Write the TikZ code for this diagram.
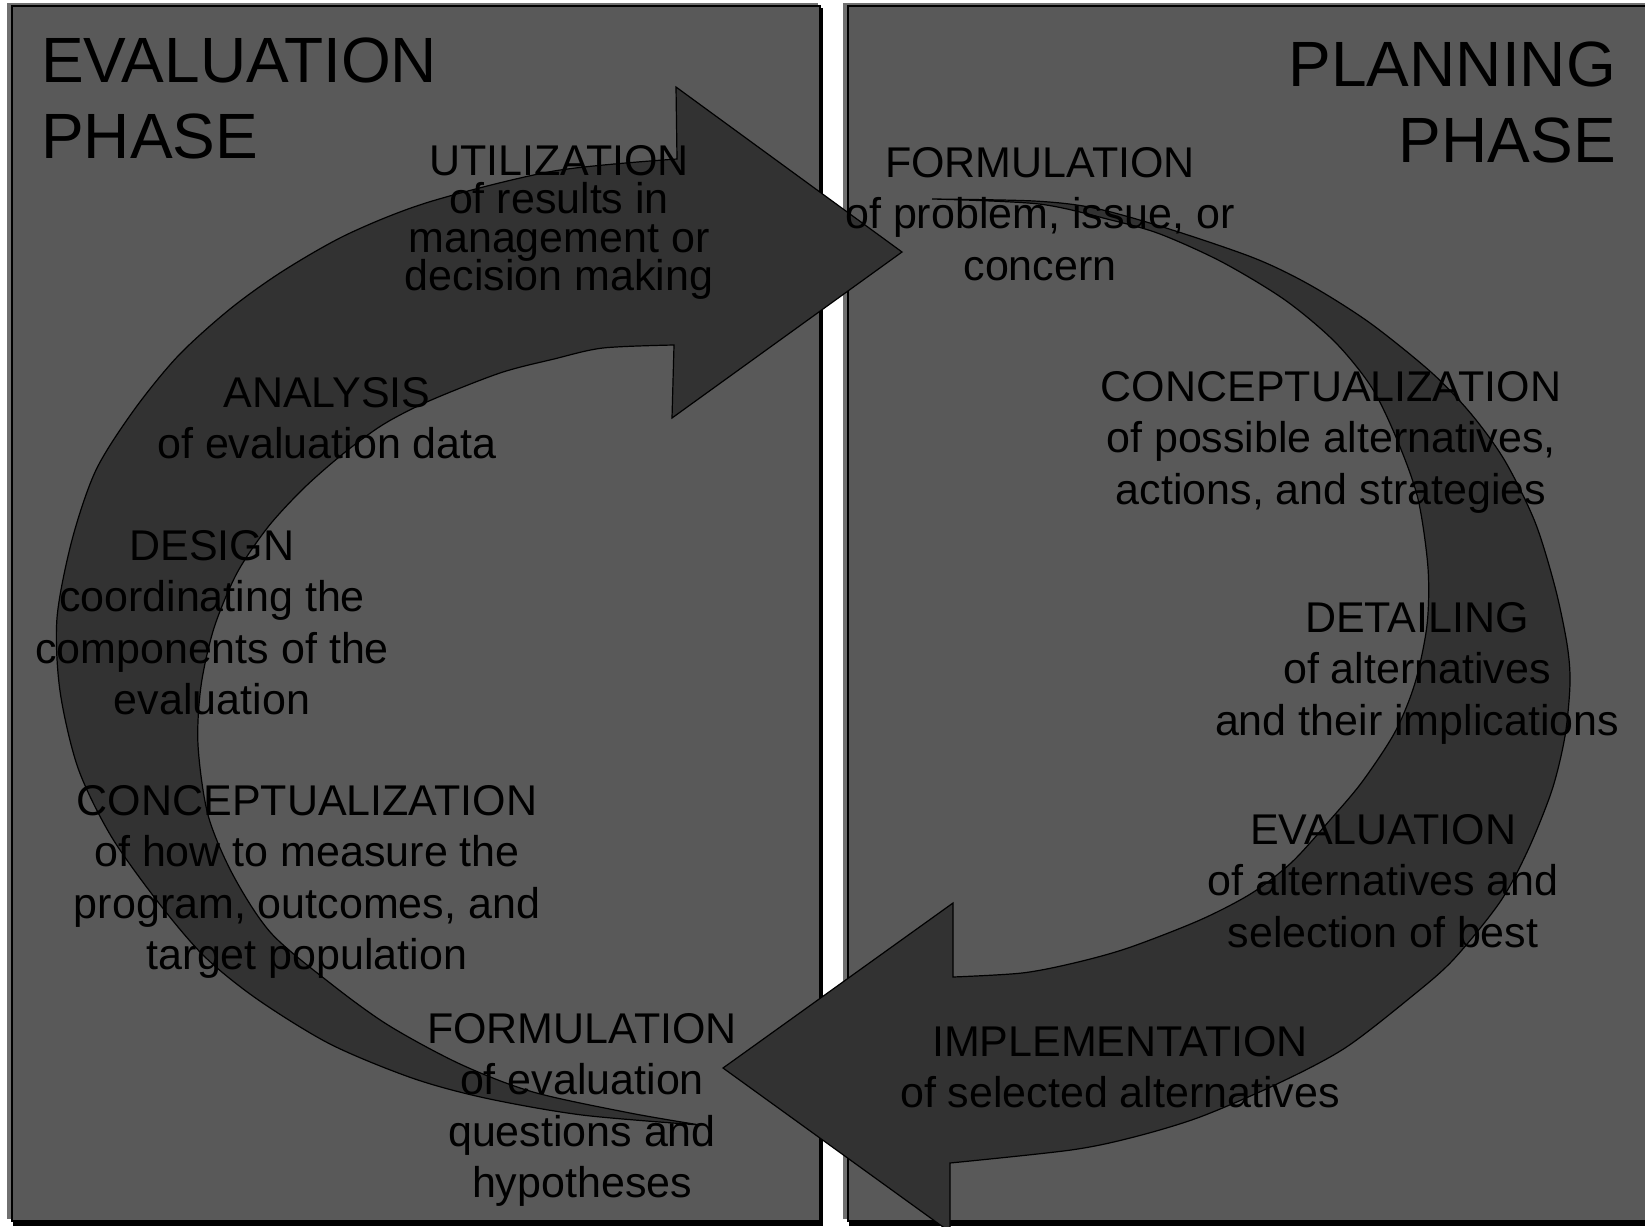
\documentclass[tikz,border=0pt]{standalone}
\usepackage{fontspec}
\setmainfont{Liberation Sans}
\usepackage{tikz}
\definecolor{panelgray}{RGB}{89,89,89}
\definecolor{arrowgray}{RGB}{50,50,50}
\definecolor{edgegray}{RGB}{112,112,112}

\begin{document}
\begin{tikzpicture}[x=1pt, y=-1pt, line join=miter,
		panel/.style={fill=panelgray, draw=black, line width=1.5pt},
		bigarrow/.style={fill=arrowgray, draw=black, line width=1.2pt},
		phase/.style={inner sep=0pt, font=\fontsize{64}{75.5}\selectfont},
		stage/.style={inner sep=0pt, anchor=north, align=center, font=\fontsize{43}{51.5}\selectfont}]
		\useasboundingbox (0,0) rectangle (1645,1226);

		% the two phase panels
		\fill[edgegray] (7,3) rectangle (818,1219);
		\fill[black] (13,8) rectangle (823,1226);
		\draw[panel] (12,6) rectangle (820,1221);
		\fill[edgegray] (843,3) rectangle (1660,1219);
		\fill[black] (849,8) rectangle (1660,1226);
		\draw[panel] (848,6) rectangle (1660,1221);

		\coordinate (e_top) at (676,87);
		\coordinate (e_tip) at (902,252);
		\coordinate (e_bot) at (672,418);
		\coordinate (p_top) at (953,903);
		\coordinate (p_tip) at (723,1068);
		\coordinate (p_bot) at (950,1232);

		% evaluation cycle, up the left side
		\draw[bigarrow] plot[smooth] coordinates {(700,1125) (582,1115) (485,1098) (412,1078) (330,1044) (257,999) (204,956) (158,902) (111,836) (78,768) (60,691) (57,618) (72,540) (96,470) (134,410) (178,356) (230,309) (283,271) (348,234) (429,202) (554,171) (677,159)}
			-- (e_top) -- (e_tip) -- (e_bot)
			-- plot[smooth] coordinates {(674,345) (603,348) (554,359) (500,373) (429,401) (384,424) (344,453) (304,488) (268,527) (237,573) (214,628) (201,686) (198,745) (208,815) (233,875) (271,933) (330,983) (388,1025) (460,1064) (533,1092) (630,1113) (700,1125)}
			-- cycle;

		% planning cycle, down the right side
		\draw[bigarrow] plot[smooth] coordinates {(932,199) (1034,201) (1094,208) (1166,228) (1254,258) (1310,285) (1370,323) (1432,373) (1472,415) (1505,461) (1535,522) (1555,587) (1567,644) (1570,683) (1565,736) (1552,790) (1528,850) (1500,902) (1453,960) (1411,997) (1345,1048) (1279,1083) (1200,1117) (1134,1137) (1071,1150) (950,1163)}
			-- (p_bot) -- (p_tip) -- (p_top)
			-- plot[smooth] coordinates {(953,977) (1022,973) (1074,963) (1128,948) (1200,920) (1252,893) (1292,862) (1330,820) (1362,782) (1395,732) (1415,683) (1427,625) (1428,568) (1418,499) (1398,442) (1372,388) (1335,342) (1285,300) (1222,262) (1160,234) (1111,220) (1039,204) (932,199)}
			-- cycle;

		\node[phase, anchor=north west, align=left]  (eval_head) at (41,38)   {EVALUATION\\PHASE};
		\node[phase, anchor=north east, align=right] (plan_head) at (1616,42) {PLANNING\\PHASE};

		\node[stage] (e_util)    at (559,145)  {UTILIZATION\\[-13pt]of results in\\[-13pt]management or\\[-13pt]decision making};
		\node[stage] (e_anal)    at (327,377)  {ANALYSIS\\of evaluation data};
		\node[stage] (e_design)  at (212,530)  {DESIGN\\coordinating the\\components of the\\evaluation};
		\node[stage] (e_concept) at (307,785)  {CONCEPTUALIZATION\\of how to measure the\\program, outcomes, and\\target population};
		\node[stage] (e_form)    at (582,1013) {FORMULATION\\of evaluation\\questions and\\hypotheses};

		\node[stage] (p_form)    at (1040,147) {FORMULATION\\of problem, issue, or\\concern};
		\node[stage] (p_concept) at (1331,371) {CONCEPTUALIZATION\\of possible alternatives,\\actions, and strategies};
		\node[stage] (p_detail)  at (1417,602) {DETAILING\\of alternatives\\and their implications};
		\node[stage] (p_eval)    at (1383,814) {EVALUATION\\of alternatives and\\selection of best};
		\node[stage] (p_impl)    at (1120,1026) {IMPLEMENTATION\\of selected alternatives};
\end{tikzpicture}
\end{document}
